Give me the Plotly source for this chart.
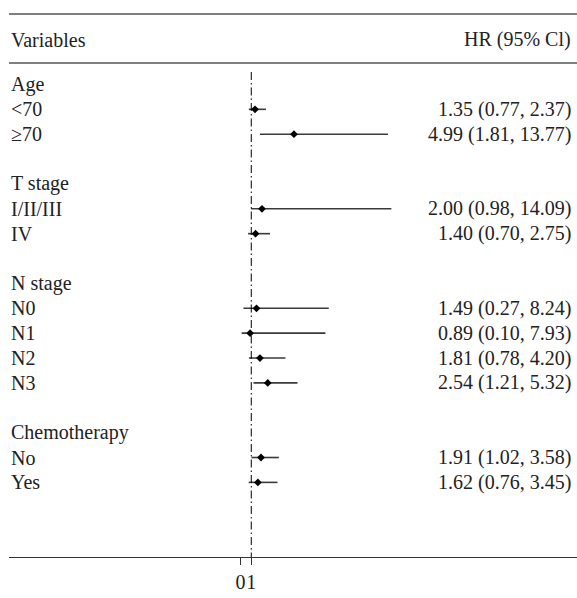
import plotly.graph_objects as go

# ---- data ----
row_labels = ["Age", "<70", "≥70", "", "T stage", "I/II/III", "IV", "",
              "N stage", "N0", "N1", "N2", "N3", "", "Chemotherapy", "No", "Yes"]
hr = [None, 1.35, 4.99, None, None, 2.00, 1.40, None, None, 1.49, 0.89, 1.81, 2.54, None, None, 1.91, 1.62]
ci_low = [None, 0.77, 1.81, None, None, 0.98, 0.70, None, None, 0.27, 0.10, 0.78, 1.21, None, None, 1.02, 0.76]
ci_high = [None, 2.37, 13.77, None, None, 14.09, 2.75, None, None, 8.24, 7.93, 4.20, 5.32, None, None, 3.58, 3.45]
tick_vals = [0, 1]
tick_text = ["0", "1"]
header_left = "Variables"
header_right = "HR (95% Cl)"

FONT = "Liberation Serif"
FS = 20

xs, ys, plus, minus = [], [], [], []
for i, (h, l, u) in enumerate(zip(hr, ci_low, ci_high)):
    if h is None:
        continue
    xs.append(h)
    ys.append(i)
    plus.append(u - h)
    minus.append(h - l)

fig = go.Figure()
fig.add_trace(go.Scatter(
    x=xs, y=ys, mode="markers",
    marker=dict(symbol="diamond", size=6, color="black"),
    error_x=dict(type="data", symmetric=False, array=plus, arrayminus=minus,
                 width=0, thickness=1.6, color="#3a3a3a"),
    showlegend=False, hoverinfo="skip",
))

# reference line at HR = 1
fig.add_shape(type="line", xref="x", yref="y", x0=1, x1=1, y0=-0.5, y1=19,
              line=dict(color="black", width=1, dash="8px,3px,1.5px,3px"))

# header rules
for yp in [1.0186, 1.1196]:
    fig.add_shape(type="line", xref="paper", yref="paper", x0=0, x1=1, y0=yp, y1=yp,
                  line=dict(color="black", width=1.2))

annotations = [
    dict(text=header_left, x=0.0, y=1.066, xref="paper", yref="paper",
         xanchor="left", yanchor="middle", showarrow=False),
    dict(text=header_right, x=0.993, y=1.066, xref="paper", yref="paper",
         xanchor="right", yanchor="middle", showarrow=False),
]
for i, lab in enumerate(row_labels):
    if lab:
        annotations.append(dict(text=lab, x=0.0, y=i, xref="paper", yref="y",
                                xanchor="left", yanchor="middle", showarrow=False))
    if hr[i] is not None:
        annotations.append(dict(text=f"{hr[i]:.2f} ({ci_low[i]:.2f}, {ci_high[i]:.2f})",
                                x=0.993, y=i, xref="paper", yref="y",
                                xanchor="right", yanchor="middle", showarrow=False))

fig.update_layout(
    width=577, height=598,
    margin=dict(l=9, r=0, t=72, b=41),
    paper_bgcolor="white", plot_bgcolor="white",
    font=dict(family=FONT, size=FS, color="#222"),
    annotations=annotations,
    xaxis=dict(range=[-21.64, 31.44], showgrid=False, zeroline=False,
               showline=True, linecolor="#333", linewidth=1.2,
               ticks="outside", ticklen=7, tickcolor="#333", tickwidth=1,
               tickvals=tick_vals, ticktext=tick_text, tickangle=0,
               tickfont=dict(family=FONT, size=FS, color="#222")),
    yaxis=dict(range=[19, -0.5], showgrid=False, zeroline=False,
               showline=False, showticklabels=False, ticks=""),
)

fig.write_html("out.html", config={"displayModeBar": False},
               post_script="document.body.style.margin='0';document.body.style.overflow='hidden';")
